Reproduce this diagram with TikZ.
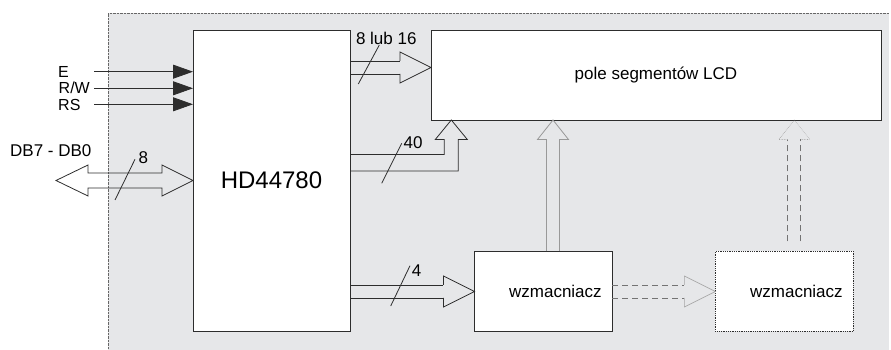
\documentclass[tikz,border=0pt]{standalone}
\usepackage{fontspec}
\setmainfont{Liberation Sans}
\usetikzlibrary{arrows.meta, calc, positioning}
\definecolor{panel}{RGB}{230,231,233}
\definecolor{ink}{RGB}{45,45,45}

% bus: shaft style, head style, start, tip
\newcommand{\hbus}[4]{%
  \draw[#1] let \p1=#3, \p2=#4 in
    (\x1,\y2+6.5pt) -- (\x2-31pt,\y2+6.5pt) (\x1,\y2-6.5pt) -- (\x2-31pt,\y2-6.5pt);
  \draw[#2] let \p2=#4 in
    (\x2-31pt,\y2+6.5pt) -- (\x2-31pt,\y2+15.5pt) -- (\x2,\y2)
    -- (\x2-31pt,\y2-15.5pt) -- (\x2-31pt,\y2-6.5pt);}
\newcommand{\vbus}[4]{%
  \draw[#1] let \p1=#3, \p2=#4 in
    (\x2-6.5pt,\y1) -- (\x2-6.5pt,\y2-19.5pt) (\x2+6.5pt,\y1) -- (\x2+6.5pt,\y2-19.5pt);
  \draw[#2] let \p2=#4 in
    (\x2-6.5pt,\y2-19.5pt) -- (\x2-15.5pt,\y2-19.5pt) -- (\x2,\y2)
    -- (\x2+15.5pt,\y2-19.5pt) -- (\x2+6.5pt,\y2-19.5pt);}

\begin{document}
\begin{tikzpicture}[x=1pt, y=1pt,
    blk/.style={draw=ink, line width=0.8pt, fill=white, inner sep=0pt, outer sep=0pt},
    lbl/.style={font=\fontsize{17}{20}\selectfont, inner sep=0pt},
    pin/.style={font=\fontsize{16}{18}\selectfont, inner sep=0pt, anchor=base west,
        text height=11.5pt, text depth=0pt},
    sig/.style={draw=ink, line width=0.8pt, -{Triangle[length=20pt,width=14pt]}},
    bus/.style={draw=ink, line width=0.8pt},
    gbus/.style={draw=black!40, line width=0.8pt},
    dbus/.style={draw=black!55, line width=0.8pt, dash pattern=on 6pt off 4pt},
    dhead/.style={draw=black!35, line width=0.6pt},
    slash/.style={draw=ink, line width=0.8pt}]
\useasboundingbox (0,0) rectangle (891,350);
\fill[panel] (108,0) rectangle (889,337);
\draw[black!60, densely dotted] (108,0) |- (889,337);

\node[blk, minimum width=157pt, minimum height=301pt,
    font=\fontsize{24}{28}\selectfont] (hd) at (271.5,169.5) {HD44780};
\node[blk, lbl, minimum width=450pt, minimum height=90pt] (lcd) at (656,275)
    {pole segmentów LCD};
\node[blk, minimum width=138pt, minimum height=80pt,
    label={[lbl, xshift=12pt]center:wzmacniacz}] (wz1) at (543.4,58.5) {};
\node[blk, densely dotted, minimum width=138pt, minimum height=80pt,
    label={[lbl, xshift=12pt]center:wzmacniacz}, right=103pt of wz1] (wz2) {};

% control inputs
\node[pin] (lE) at (58,272.5) {E};
\node[pin] (lRW) at (58.5,256) {R/W};
\node[pin] (lRS) at (58,239.5) {RS};
\coordinate (sE) at (94.3,278.3);
\coordinate (sRW) at (94.3,261.7);
\coordinate (sRS) at (94.3,245.7);
\foreach \s in {sE,sRW,sRS}
  \draw[sig] (\s) -- (\s -| hd.west);

% data bus
\node[lbl, anchor=base west] (ldb) at (10,193.9) {DB7 - DB0};
\coordinate (db) at (56,169.5);
\draw[bus] let \p1=(db), \p2=(hd.west) in
  (\x1,\y2) -- (\x1+32pt,\y2+15.5pt) -- (\x1+32pt,\y2+7.5pt) -- (\x2-31pt,\y2+7.5pt)
  -- (\x2-31pt,\y2+15.5pt) -- (\x2,\y2) -- (\x2-31pt,\y2-15.5pt) -- (\x2-31pt,\y2-7.5pt)
  -- (\x1+32pt,\y2-7.5pt) -- (\x1+32pt,\y2-15.5pt) -- cycle;

% buses to LCD and amplifiers
\coordinate (t1) at ([yshift=7.5pt]lcd.west);
\coordinate (t2) at ([xshift=20.3pt]lcd.south west);
\coordinate (t3) at ([xshift=122pt]lcd.south west);
\coordinate (t4) at ([xshift=363.3pt]lcd.south west);
\coordinate (d4) at ($(t4 |- wz2.north)+(0,10)$);
\hbus{bus}{bus}{(hd.east |- t1)}{(t1)}
\hbus{bus}{bus}{(hd.east |- wz1.west)}{(wz1.west)}
\draw[bus] let \p1=(hd.east), \p2=(t2) in
  (\x1,195.5pt) -| (\x2-7pt,\y2-19.5pt) -- (\x2-16pt,\y2-19.5pt) -- (\x2,\y2)
  -- (\x2+16pt,\y2-19.5pt) -- (\x2+7pt,\y2-19.5pt) |- (\x1,179pt);
\vbus{gbus}{gbus}{(t3 |- wz1.north)}{(t3)}
\hbus{dbus}{dhead}{(wz1.east)}{(wz2.west)}
\vbus{dbus}{dhead, densely dotted}{(d4)}{(t4)}

% bus widths
\draw[slash] (115,150) -- (135,190.7);
\draw[slash] (358.3,266) -- (379.3,305);
\draw[slash] (381.7,166.7) -- (401.7,206.7);
\draw[slash] (390.7,44) -- (410,84.3);
\node[lbl] (n8) at (143.3,192) {8};
\node[lbl] (n816) at (386.3,311.7) {8 lub 16};
\node[lbl] (n40) at (413,207) {40};
\node[lbl] (n4) at (416.7,79.3) {4};
\end{tikzpicture}
\end{document}
